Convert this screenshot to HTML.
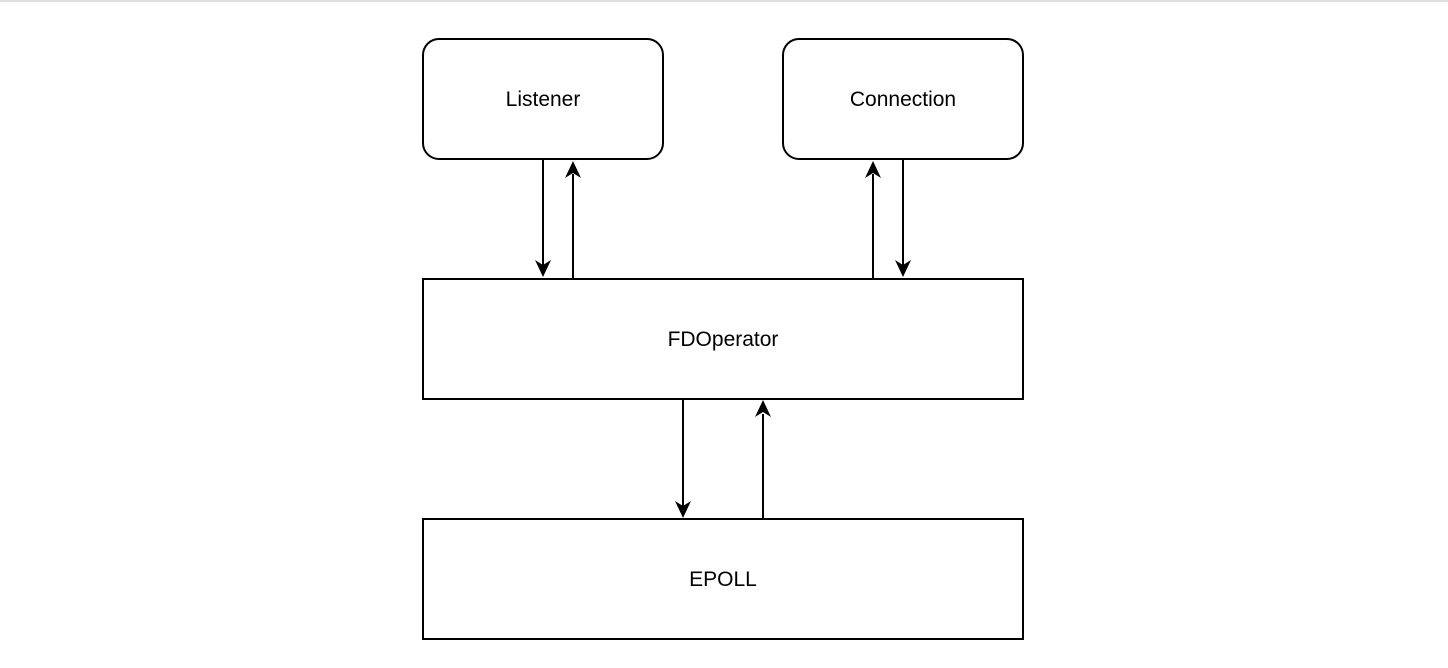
<!DOCTYPE html>
<html><head><style>
html,body{margin:0;padding:0;background:#fff;width:1448px;height:668px;overflow:hidden}
</style></head><body>
<svg width="1448" height="668" viewBox="0 0 1448 668" xmlns="http://www.w3.org/2000/svg">
<rect x="0" y="0" width="1448" height="2" fill="#e0e0e0"/>
<g fill="#fff" stroke="#000" stroke-width="2">
<rect x="423" y="39" width="240" height="120" rx="16"/>
<rect x="783" y="39" width="240" height="120" rx="16"/>
<rect x="423" y="279" width="600" height="120"/>
<rect x="423" y="519" width="600" height="120"/>
</g>
<g stroke="#000" stroke-width="2" fill="none">
<line x1="543" y1="160" x2="543" y2="266"/>
<line x1="573" y1="279" x2="573" y2="174"/>
<line x1="873" y1="279" x2="873" y2="174"/>
<line x1="903" y1="160" x2="903" y2="266"/>
<line x1="683" y1="400" x2="683" y2="506"/>
<line x1="763" y1="519" x2="763" y2="414"/>
</g>
<g fill="#000">
<path d="M543,277 L535,260 L543,265 L551,260 z"/>
<path d="M573,161 L565,178 L573,173 L581,178 z"/>
<path d="M873,161 L865,178 L873,173 L881,178 z"/>
<path d="M903,277 L895,260 L903,265 L911,260 z"/>
<path d="M683,518 L675,501 L683,506 L691,501 z"/>
<path d="M763,400 L755,417 L763,412 L771,417 z"/>
</g>
<g font-family="Liberation Sans, sans-serif" font-size="21" text-anchor="middle" fill="#000">
<text x="543" y="106">Listener</text>
<text x="903" y="106">Connection</text>
<text x="723" y="346">FDOperator</text>
<text x="723" y="586">EPOLL</text>
</g>
</svg>
</body></html>
